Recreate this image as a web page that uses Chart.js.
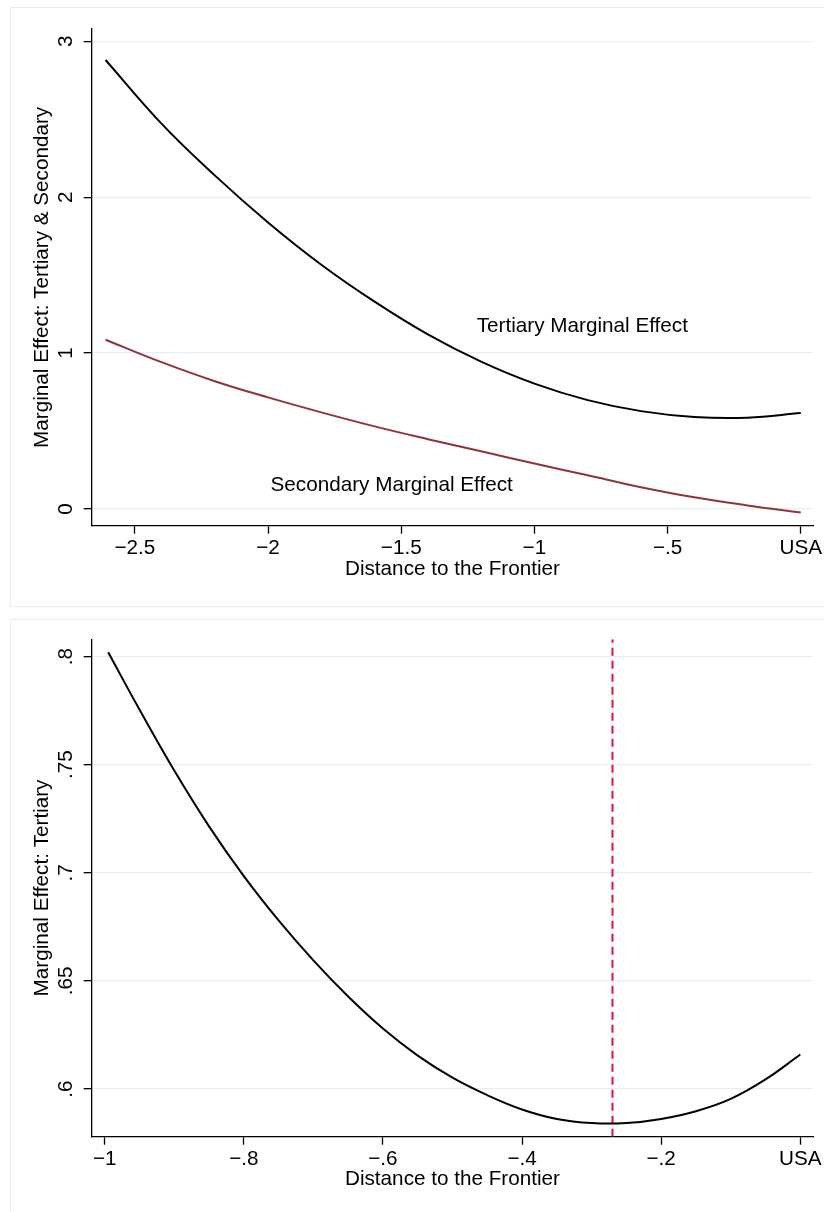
<!DOCTYPE html>
<html>
<head>
<meta charset="utf-8">
<script src="https://cdn.jsdelivr.net/npm/chart.js@4.4.1/dist/chart.umd.min.js"></script>
<style>
  body { margin: 0; background: #fff; width: 824px; height: 1212px; overflow: hidden; position: relative; }
  .painel { position: absolute; left: 10px; width: 830px; height: 600px; border: 1px solid #e6edf0; box-sizing: border-box; }
  #p1 { top: 7px; }
  #p2 { top: 619px; }
  canvas { position: absolute; left: 0; top: 0; }
</style>
</head>
<body>
<div class="painel" id="p1"><canvas id="grafico1" width="813" height="597"></canvas></div>
<div class="painel" id="p2"><canvas id="grafico2" width="813" height="592"></canvas></div>
<script>
// dados - painel de cima
const distTop = [-2.61, -2.4, -2.2, -2.0, -1.8, -1.6, -1.4, -1.2, -1.0, -0.8, -0.6, -0.4, -0.2, 0];
const tertiaryTop = [2.88, 2.472, 2.14, 1.838, 1.567, 1.33, 1.12, 0.945, 0.804, 0.6985, 0.628, 0.5906, 0.5862, 0.616];
const secondaryTop = [1.086, 0.942, 0.82, 0.716, 0.62, 0.53, 0.448, 0.37, 0.292, 0.216, 0.14, 0.075, 0.023, -0.023];
const xTicksTop = [-2.5, -2, -1.5, -1, -0.5, 0];
const xLabelsTop = ["\u22122.5", "\u22122", "\u22121.5", "\u22121", "\u2212.5", "USA"];
const yTicksTop = [0, 1, 2, 3];
const yLabelsTop = ["0", "1", "2", "3"];

// painel de baixo (zoom entre -1 e 0)
const distBottom = [-0.995, -0.95, -0.9, -0.85, -0.8, -0.75, -0.7, -0.65, -0.6, -0.55, -0.5, -0.45, -0.4, -0.35, -0.3, -0.25, -0.2, -0.15, -0.1, -0.05, 0];
const tertiaryBottom = [0.802, 0.7755, 0.7473, 0.7215, 0.6985, 0.678, 0.6595, 0.6428, 0.628, 0.6155, 0.6053, 0.5972, 0.5906, 0.5862, 0.5843, 0.5843, 0.5862, 0.5898, 0.5955, 0.6045, 0.616];
const minimumX = -0.27; // linha vertical tracejada
const xTicksBottom = [-1, -0.8, -0.6, -0.4, -0.2, 0];
const xLabelsBottom = ["\u22121", "\u2212.8", "\u2212.6", "\u2212.4", "\u2212.2", "USA"];
const yTicksBottom = [0.6, 0.65, 0.7, 0.75, 0.8];
const yLabelsBottom = [".6", ".65", ".7", ".75", ".8"];

const FONTE = '"Liberation Sans", Arial, Helvetica, sans-serif';
const TAM = 20.7;
Chart.defaults.font.family = FONTE;
Chart.defaults.font.size = TAM;
Chart.defaults.color = '#000';

// escreve textos dentro do grafico em coordenadas dos dados
const textosPlugin = {
  id: 'textos',
  afterDatasetsDraw(chart, args, opts) {
    const ctx = chart.ctx;
    const sx = chart.scales.x, sy = chart.scales.y;
    (opts.items || []).forEach(t => {
      ctx.save();
      ctx.font = TAM + 'px ' + FONTE;
      ctx.fillStyle = '#000';
      ctx.textAlign = 'center';
      ctx.textBaseline = 'middle';
      ctx.fillText(t.text, sx.getPixelForValue(t.x), sy.getPixelForValue(t.y));
      ctx.restore();
    });
  }
};

function pares(xs, ys) {
  return xs.map((x, i) => ({ x: x, y: ys[i] }));
}

function montarGrafico(id, cfg) {
  return new Chart(document.getElementById(id), {
    type: 'line',
    data: { datasets: cfg.datasets },
    plugins: [textosPlugin],
    options: {
      responsive: false,
      animation: false,
      devicePixelRatio: 1,
      layout: { padding: { top: cfg.padTop, right: cfg.padRight, left: 0, bottom: 0 } },
      elements: { point: { radius: 0 }, line: { tension: 0.4 } },
      plugins: {
        legend: { display: false },
        tooltip: { enabled: false },
        textos: { items: cfg.textos || [] }
      },
      scales: {
        x: {
          type: 'linear',
          min: cfg.xMin, max: cfg.xMax,
          afterBuildTicks: s => { s.ticks = cfg.xTicks.map(v => ({ value: v })); },
          afterFit: s => { s.height = cfg.xHeight; s.paddingLeft = 0; s.paddingRight = 0; },
          grid: { drawOnChartArea: false, drawTicks: true, tickLength: 8, tickColor: '#000', tickWidth: 1.3 },
          border: { color: '#000', width: 1.3 },
          ticks: {
            padding: 2, maxRotation: 0, minRotation: 0, autoSkip: false,
            callback: v => cfg.xLabels[cfg.xTicks.indexOf(v)]
          },
          title: { display: true, text: 'Distance to the Frontier', padding: { top: 0, bottom: cfg.xTitlePad } }
        },
        y: {
          type: 'linear',
          min: cfg.yMin, max: cfg.yMax,
          afterBuildTicks: s => { s.ticks = cfg.yTicks.map(v => ({ value: v })); },
          afterFit: s => { s.width = 80.7; s.paddingTop = 0; s.paddingBottom = 0; },
          grid: { color: '#e8eff2', lineWidth: 1.3, drawTicks: true, tickLength: 8, tickColor: '#000', tickWidth: 1.3 },
          border: { color: '#000', width: 1.3 },
          ticks: {
            padding: cfg.yTickPad, minRotation: 90, maxRotation: 90, crossAlign: 'center', autoSkip: false,
            callback: v => cfg.yLabels[cfg.yTicks.indexOf(v)]
          },
          title: { display: true, text: cfg.yTitle, padding: { top: 19, bottom: 0 } }
        }
      }
    }
  });
}

// grafico 1
montarGrafico('grafico1', {
  datasets: [
    { data: pares(distTop, tertiaryTop), borderColor: '#000', borderWidth: 2 },
    { data: pares(distTop, secondaryTop), borderColor: '#8f343b', borderWidth: 2 }
  ],
  padTop: 21, padRight: 10.7, xHeight: 79.3, xTitlePad: 23.6, yTickPad: 12,
  xMin: -2.662, xMax: 0.047, yMin: -0.107, yMax: 3.079,
  xTicks: xTicksTop, xLabels: xLabelsTop, yTicks: yTicksTop, yLabels: yLabelsTop,
  yTitle: 'Marginal Effect: Tertiary & Secondary',
  textos: [
    { text: 'Tertiary Marginal Effect', x: -0.82, y: 1.169 },
    { text: 'Secondary Marginal Effect', x: -1.536, y: 0.151 }
  ]
});

// grafico 2
const yMinB = 0.578, yMaxB = 0.808;
montarGrafico('grafico2', {
  datasets: [
    { data: pares(distBottom, tertiaryBottom), borderColor: '#000', borderWidth: 2 },
    { data: [{ x: minimumX, y: yMinB }, { x: minimumX, y: yMaxB }], borderColor: '#dc143c', borderWidth: 2, borderDash: [8, 5], tension: 0 }
  ],
  padTop: 19.3, padRight: 10.7, xHeight: 75.3, xTitlePad: 20.6, yTickPad: 3.3,
  xMin: -1.0187, xMax: 0.0187, yMin: yMinB, yMax: yMaxB,
  xTicks: xTicksBottom, xLabels: xLabelsBottom, yTicks: yTicksBottom, yLabels: yLabelsBottom,
  yTitle: 'Marginal Effect: Tertiary'
});
</script>
</body>
</html>
